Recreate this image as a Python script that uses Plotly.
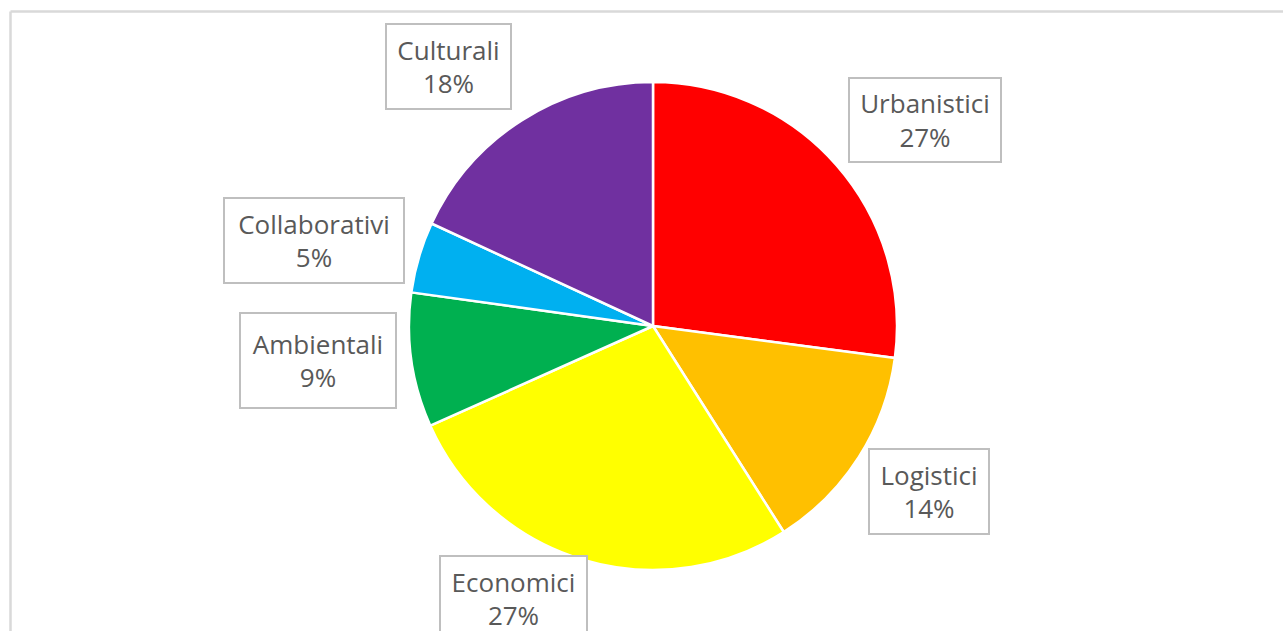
import plotly.graph_objects as go

labels = ["Urbanistici", "Logistici", "Economici", "Ambientali", "Collaborativi", "Culturali"]
values = [27.1, 13.9, 27.3, 8.9, 4.7, 18.1]
colors = ["#FF0000", "#FFC000", "#FFFF00", "#00B050", "#00B0F0", "#7030A0"]

W, H = 1283, 631
total = sum(values)

cxp, cyp, r = 653, 326, 244
fig = go.Figure(go.Pie(
    labels=labels, values=values, sort=False, direction="clockwise", rotation=0,
    marker=dict(colors=colors, line=dict(color="white", width=2.5)),
    textinfo="none", hoverinfo="label+percent", showlegend=False,
    domain=dict(x=[(cxp - r) / W, (cxp + r) / W], y=[(H - cyp - r) / H, (H - cyp + r) / H]),
))

# label box centres and sizes in pixels (layout only)
boxes = {
    "Urbanistici": (925, 120, 154, 86),
    "Logistici": (929, 491, 122, 87),
    "Economici": (513, 598, 149, 87),
    "Ambientali": (318, 361, 158, 97),
    "Collaborativi": (314, 240, 182, 87),
    "Culturali": (448, 66, 127, 87),
}
pad = 3
bw = 2
for lab, val in zip(labels, values):
    cx, cy, bwid, bhei = boxes[lab]
    fig.add_annotation(
        x=cx / W, y=1 - cy / H, xref="paper", yref="paper",
        text=f"{lab}<br>{round(100 * val / total)}%",
        showarrow=False, align="center",
        font=dict(family="Open Sans", size=26, color="#595959"),
        bordercolor="#BFBFBF", borderwidth=bw, borderpad=pad,
        bgcolor="white",
        width=bwid - 2 * pad - 2 * bw, height=bhei - 2 * pad - 2 * bw,
        xanchor="center", yanchor="middle",
    )

fig.add_shape(type="line", xref="paper", yref="paper", x0=10.5 / W, x1=1.0, y0=1 - 11.5 / H, y1=1 - 11.5 / H,
              line=dict(color="#D9D9D9", width=2.5))
fig.add_shape(type="line", xref="paper", yref="paper", x0=10.5 / W, x1=10.5 / W, y0=0, y1=1 - 11.5 / H,
              line=dict(color="#D9D9D9", width=2.5))

fig.update_layout(
    width=W, height=H, margin=dict(l=0, r=0, t=0, b=0),
    paper_bgcolor="white", plot_bgcolor="white",
)
fig.write_html("out.html")
